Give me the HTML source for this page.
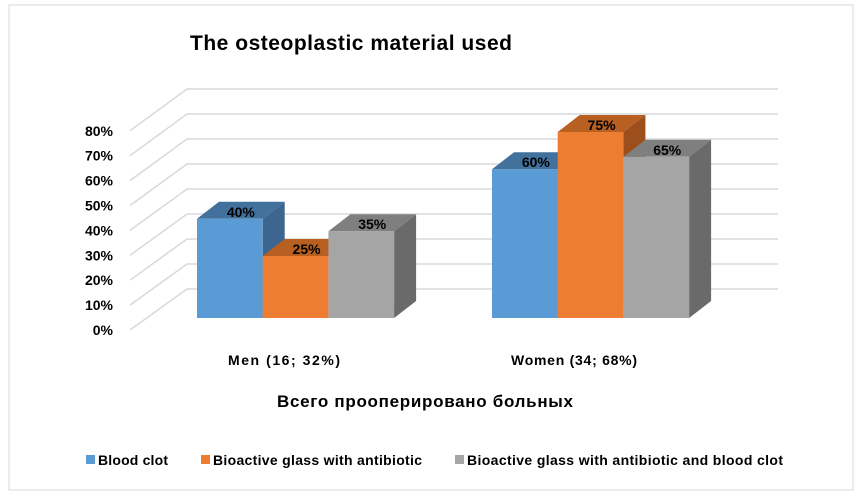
<!DOCTYPE html>
<html><head><meta charset="utf-8"><style>
body{margin:0;background:#fff;}
svg{display:block;font-family:"Liberation Sans",sans-serif;}
</style></head><body>
<svg id="chart" width="862" height="501">
<rect x="9" y="5" width="844" height="485" fill="#fff" stroke="#d9d9d9"/>
<text x="190" y="50" font-size="21" font-weight="bold" fill="#000" textLength="322">The osteoplastic material used</text>
<g id="grid"></g>
<g id="bars"></g>
<text x="228" y="365" font-size="14" font-weight="bold" textLength="112">Men (16; 32%)</text>
<text x="511" y="365" font-size="14" font-weight="bold" textLength="126">Women (34; 68%)</text>
<text x="277" y="407" font-size="17" font-weight="bold" textLength="296">Всего прооперировано  больных</text>
<g font-size="14" font-weight="bold">
<rect x="86" y="455" width="9" height="9" fill="#5b9bd5"/>
<text x="98" y="465" textLength="70">Blood clot</text>
<rect x="201" y="455" width="9" height="9" fill="#ed7d31"/>
<text x="213" y="465" textLength="209">Bioactive glass with antibiotic</text>
<rect x="455" y="455" width="9" height="9" fill="#a5a5a5"/>
<text x="467" y="465" textLength="316">Bioactive glass with antibiotic and blood clot</text>
</g>
</svg>
<script>
const categories=["Men (16; 32%)","Women (34; 68%)"];
const seriesNames=["Blood clot","Bioactive glass with antibiotic","Bioactive glass with antibiotic and blood clot"];
const bloodClot=[40,60];
const glass=[25,75];
const glassClot=[35,65];
const ticks=[0,10,20,30,40,50,60,70,80];
const NS="http://www.w3.org/2000/svg";
const grid=document.getElementById('grid'),bars=document.getElementById('bars');
function mk(tag,attrs,parent){const e=document.createElementNS(NS,tag);for(const k in attrs)e.setAttribute(k,attrs[k]);parent.appendChild(e);return e;}
const yFront=v=>330-v*2.49, yBack=v=>289-v*2.5, yBar=v=>318-v*2.48;
ticks.forEach(t=>{
 const by=yBack(t);
 const l=mk('polyline',{points:`${130},${yFront(t)} 187,${by} 778,${by}`,fill:'none',stroke:'#d9d9d9','stroke-width':1.5},grid);
 
 
});
ticks.forEach(t=>{
 const tx=mk('text',{x:113,y:yFront(t)+5,'font-size':14,'font-weight':'bold','text-anchor':'end'},grid);
 tx.textContent=t+'%';
 
 
});
const groupX=[197,492], bw=65.7, dx=22, dy=17;
const cols=[["#5b9bd5","#41719c","#3c6690"],["#ed7d31","#b85f22","#9c4f1c"],["#a5a5a5","#7f7f7f","#6a6a6a"]];
const series=[bloodClot,glass,glassClot];
categories.forEach((c,ci)=>{
 const order=[0,1,2];
 order.forEach(s=>{
  const v=series[s][ci],x=groupX[ci]+s*bw,y=yBar(v),b=yBar(0);
  const g=mk('g',{},bars);
  
  
  mk('polygon',{points:`${x+bw},${y} ${x+bw+dx},${y-dy} ${x+bw+dx},${b-dy} ${x+bw},${b}`,fill:cols[s][2]},g);
  mk('polygon',{points:`${x},${y} ${x+dx},${y-dy} ${x+bw+dx},${y-dy} ${x+bw},${y}`,fill:cols[s][1]},g);
  mk('rect',{x:x,y:y,width:bw,height:b-y,fill:cols[s][0]},g);
 });
 order.forEach(s=>{
  const v=series[s][ci],x=groupX[ci]+s*bw,y=yBar(v);
  const t=mk('text',{x:x+bw/2+dx/2,y:y-2,'font-size':14,'font-weight':'bold','text-anchor':'middle'},bars);
  t.textContent=v+'%';
  
  
 });
});
</script>
</body></html>
